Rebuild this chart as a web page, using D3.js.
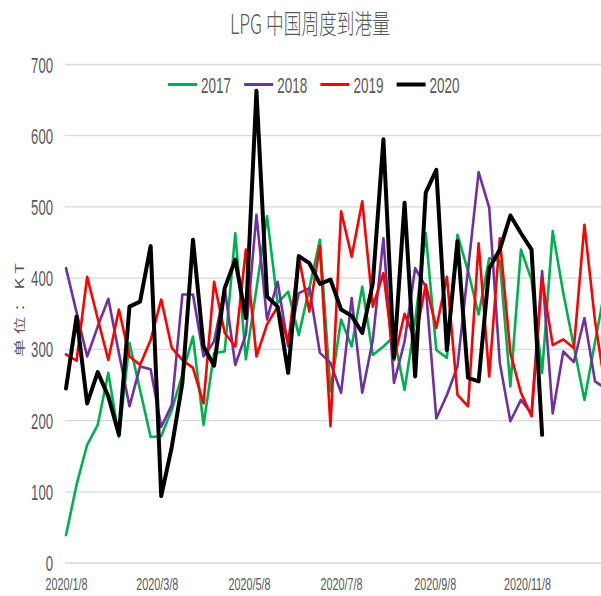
<!DOCTYPE html>
<html><head><meta charset="utf-8">
<script src="https://cdn.jsdelivr.net/npm/d3@7"></script>
<style>html,body{margin:0;padding:0;background:#fff;} svg{display:block;}</style>
</head><body><svg id="c" width="601" height="596"></svg>
<script>
const chartTitle = "LPG 中国周度到港量";
const yAxisTitle = "单位：KT";
const seriesNames = ["2017", "2018", "2019", "2020"];
const seriesColors = ["#00B050", "#7030A0", "#FF0000", "#000000"];
const seriesWidths = [2.6, 2.6, 2.6, 4];
const firstWeek = new Date(2020, 0, 8);
const xTickDates = [new Date(2020,0,8), new Date(2020,2,8), new Date(2020,4,8), new Date(2020,6,8), new Date(2020,8,8), new Date(2020,10,8)];
const yTicks = [0, 100, 200, 300, 400, 500, 600, 700];

const v2017 = [39,110,166,194,267,177,309,243,177,178,215,265,318,194,295,297,463,286,385,487,365,381,320,386,454,241,342,304,388,292,304,318,243,340,463,299,288,461,410,349,428,424,248,440,398,267,466,379,304,229,310,390];
const v2018 = [414,352,290,332,371,295,220,276,272,191,222,377,377,290,311,386,278,321,489,342,395,304,379,386,295,281,239,372,239,313,456,253,311,414,388,203,236,276,412,549,499,281,199,229,210,410,210,297,282,344,255,245];
const v2019 = [293,284,402,343,285,356,290,278,313,370,302,285,274,224,395,323,304,440,290,335,360,309,430,353,445,192,494,430,508,360,407,285,350,313,391,330,402,236,220,449,262,456,295,239,206,400,306,314,302,475,340,243];
const v2020 = [245,346,224,268,234,180,360,367,445,94,163,253,454,304,277,386,426,344,663,374,360,267,431,421,392,398,356,347,323,393,595,288,506,262,520,552,299,452,260,255,414,440,488,463,440,180];

const seriesValues = [v2017, v2018, v2019, v2020];
const weekDate = i => d3.timeDay.offset(firstWeek, 7 * i);

const svg = d3.select("#c");
svg.append("rect").attr("width", 601).attr("height", 596).attr("fill", "#fff");

const x = d3.scaleTime().domain([new Date(2020,0,8), new Date(2020,10,8)]).range([66, 527]);
const y = d3.scaleLinear().domain([0, 700]).range([563, 64.5]);

svg.append("g").selectAll("line").data(yTicks).join("line")
  .attr("x1", 65).attr("x2", 601)
  .attr("y1", d => y(d)).attr("y2", d => y(d))
  .attr("stroke", "#d9d9d9").attr("stroke-width", 1.3);

const FONT = "'Liberation Sans', Arial, sans-serif";
const GRAY = "#595959";

svg.append("g").selectAll("text").data(yTicks).join("text")
  .attr("x", d => 53 - String(d).length * 7.3)
  .attr("y", d => y(d) + 8)
  .attr("font-family", FONT).attr("font-size", 22).attr("fill", GRAY)
  .attr("textLength", d => String(d).length * 7.3)
  .attr("lengthAdjust", "spacingAndGlyphs")
  .text(d => d);

const fmt = d3.timeFormat("%Y/%-m/%-d");
const xAxis = d3.axisBottom(x).tickValues(xTickDates).tickFormat(fmt).tickSize(0);
const gx = svg.append("g").attr("transform", "translate(0,563)").call(xAxis);
gx.select(".domain").remove();
gx.selectAll("text")
  .attr("font-family", FONT).attr("font-size", 16).attr("fill", GRAY)
  .attr("y", 27).attr("dy", 0)
  .attr("text-anchor", "start")
  .attr("x", d => -fmt(d).length * 5.25 / 2)
  .attr("textLength", d => fmt(d).length * 5.25)
  .attr("lengthAdjust", "spacingAndGlyphs");

const line = d3.line().x((d, i) => x(weekDate(i))).y(d => y(d)).curve(d3.curveLinear);
seriesValues.forEach((vals, k) => {
  svg.append("path").datum(vals)
    .attr("d", line)
    .attr("fill", "none")
    .attr("stroke", seriesColors[k])
    .attr("stroke-width", seriesWidths[k])
    .attr("stroke-linejoin", "round")
    .attr("stroke-linecap", "round");
});

svg.append("text").attr("x", 230).attr("y", 33.5)
  .attr("font-family", "'Noto Sans CJK SC', sans-serif").attr("font-size", 27).attr("font-weight", 300)
  .attr("fill", GRAY).attr("textLength", 160).attr("lengthAdjust", "spacingAndGlyphs")
  .text(chartTitle);

svg.append("text")
  .attr("transform", "translate(19,310) scale(0.62,1) rotate(-90)")
  .attr("text-anchor", "middle").attr("dominant-baseline", "central")
  .attr("font-family", "'Noto Sans CJK SC', sans-serif").attr("font-size", 18)
  .attr("fill", GRAY).attr("textLength", 94).attr("lengthAdjust", "spacing")
  .text(yAxisTitle);

const lg = svg.append("g");
seriesNames.forEach((name, k) => {
  const x0 = 168 + k * 76.2;
  lg.append("line").attr("x1", x0).attr("x2", x0 + 29).attr("y1", 84.5).attr("y2", 84.5)
    .attr("stroke", seriesColors[k]).attr("stroke-width", k === 3 ? 4 : 3);
  lg.append("text").attr("x", x0 + 33).attr("y", 92.5)
    .attr("font-family", FONT).attr("font-size", 22).attr("fill", GRAY)
    .attr("textLength", 30).attr("lengthAdjust", "spacingAndGlyphs")
    .text(name);
});
</script></body></html>
